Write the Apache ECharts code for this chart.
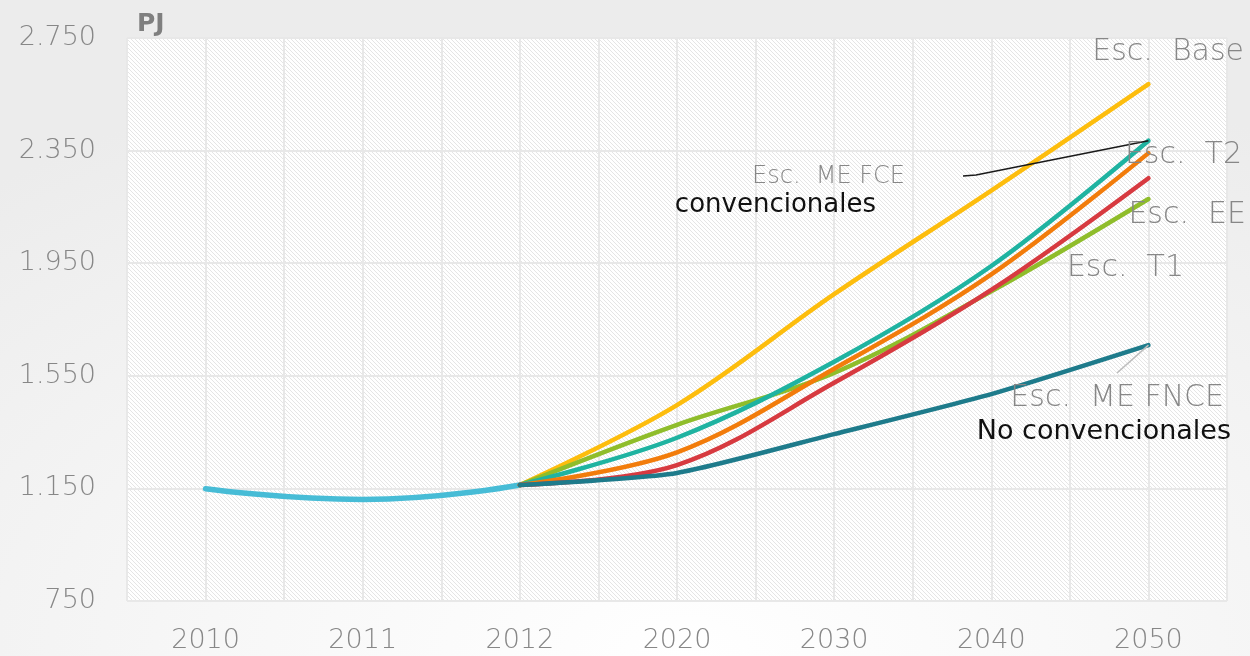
<!DOCTYPE html>
<html>
<head>
<meta charset="utf-8">
<title>Demanda de energía (PJ)</title>
<script src="https://cdn.jsdelivr.net/npm/echarts@6/dist/echarts.min.js"></script>
<style>
  html, body { margin: 0; padding: 0; }
  body {
    background: radial-gradient(ellipse 85% 95% at 55% 100%, #ffffff 0%, #f7f7f7 45%, #ececec 100%);
  }
  #chart { width: 1250px; height: 656px; }
</style>
</head>
<body>
<div id="chart"></div>
<script>
// Years on the horizontal axis
const years = ['2010', '2011', '2012', '2020', '2030', '2040', '2050'];

// Vertical axis tick values (PJ)
const yTicks = [750, 1150, 1550, 1950, 2350, 2750];

// Historical series (2010–2012)
const historico = [1149, 1111, 1162, null, null, null, null];

// Scenario projections, starting from 2012
const escBase   = [null, null, 1162, 1446, 1840, 2208, 2586];
const escEE     = [null, null, 1162, 1376, 1560, 1850, 2178];
const escFCE    = [null, null, 1162, 1330, 1600, 1940, 2385];
const escT2     = [null, null, 1162, 1278, 1575, 1910, 2341];
const escT1     = [null, null, 1162, 1233, 1525, 1855, 2252];
const escFNCE   = [null, null, 1162, 1205, 1343, 1485, 1659];

const FONT = '"DejaVu Sans", Lato, sans-serif';
const GREY = '#878787';

// Fine diagonal hatch used as plot background
function hatchPattern() {
  const s = 4;
  const c = document.createElement('canvas');
  c.width = s; c.height = s;
  const g = c.getContext('2d');
  g.fillStyle = '#ffffff';
  g.fillRect(0, 0, s, s);
  g.strokeStyle = '#e2e2e2';
  g.lineWidth = 0.9;
  g.beginPath();
  g.moveTo(-1, -1); g.lineTo(s + 1, s + 1);
  g.moveTo(-1, s - 1); g.lineTo(1, s + 1);
  g.moveTo(s - 1, -1); g.lineTo(s + 1, 1);
  g.stroke();
  return c;
}

function thousands(v) {
  return String(v).replace(/\B(?=(\d{3})+(?!\d))/g, '.');
}

function lineSeries(name, data, color, width, smooth, z) {
  return {
    name: name,
    type: 'line',
    data: data,
    xAxisIndex: 0,
    yAxisIndex: 0,
    smooth: smooth,
    showSymbol: false,
    connectNulls: false,
    z: z,
    lineStyle: { color: color, width: width, cap: 'round', join: 'round' },
    itemStyle: { color: color },
    emphasis: { disabled: true }
  };
}

const chart = echarts.init(document.getElementById('chart'), null, { renderer: 'canvas' });

const gridLine = { show: true, lineStyle: { color: '#e8e8e8', width: 2 } };

chart.setOption({
  animation: false,
  grid: {
    left: 127, right: 23, top: 38, bottom: 55,
    show: true,
    backgroundColor: { image: hatchPattern(), repeat: 'repeat' },
    borderWidth: 0
  },
  xAxis: [
    {
      type: 'category',
      data: years,
      boundaryGap: true,
      axisLine: { show: false },
      axisTick: { show: false },
      splitLine: { show: false },
      axisLabel: { fontFamily: FONT, fontWeight: 200, fontSize: 27, color: GREY, margin: 26 }
    },
    {
      // half-year guide lines across the plot
      type: 'value',
      min: 0, max: 14, interval: 1,
      position: 'bottom',
      axisLine: { show: false },
      axisTick: { show: false },
      axisLabel: { show: false },
      splitLine: gridLine
    }
  ],
  yAxis: {
    type: 'value',
    min: 750, max: 2750,
    axisLine: { show: false },
    axisTick: { show: false, customValues: yTicks },
    axisLabel: {
      customValues: yTicks,
      fontFamily: FONT, fontWeight: 200, fontSize: 27, color: GREY, margin: 31,
      formatter: thousands
    },
    splitLine: gridLine
  },
  series: [
    lineSeries('Histórico', historico, '#47bcd6', 5.5, 0.5, 3),
    lineSeries('Esc. Base', escBase, '#fdbd0d', 4.5, 0.35, 4),
    lineSeries('Esc. EE', escEE, '#8fbd2b', 4.5, 0.35, 5),
    lineSeries('Esc. ME FCE convencionales', escFCE, '#1fb3a1', 4.5, 0.35, 6),
    lineSeries('Esc. T2', escT2, '#f27c0b', 4.5, 0.35, 7),
    lineSeries('Esc. T1', escT1, '#d73a40', 4.5, 0.35, 8),
    lineSeries('Esc. ME FNCE No convencionales', escFNCE, '#1e7b8b', 4.5, 0.2, 9)
  ]
});

// Scenario captions and leader lines
const endFCE = chart.convertToPixel({ xAxisIndex: 0, yAxisIndex: 0 }, ['2050', escFCE[6]]);
const endFNCE = chart.convertToPixel({ xAxisIndex: 0, yAxisIndex: 0 }, ['2050', escFNCE[6]]);

function caption(text, x, y, size, color, weight) {
  return {
    type: 'text', x: x, y: y, z: 100,
    style: {
      text: text, fill: color, font: (weight || 200) + ' ' + size + 'px ' + FONT,
      align: 'right', verticalAlign: 'middle'
    }
  };
}

chart.setOption({
  graphic: [
    { type: 'text', x: 137, y: 24, z: 100,
      style: { text: 'PJ', fill: '#7f7f7f', font: 'bold 25px ' + FONT, align: 'left', verticalAlign: 'middle' } },
    caption('Esc.  Base', 1244, 52, 30, GREY),
    caption('Esc.  T2', 1242, 155, 30, GREY),
    caption('Esc.  EE', 1246, 215, 30, GREY),
    caption('Esc.  T1', 1184, 268, 30, GREY),
    caption('Esc.  ME FCE', 905, 177, 24, GREY),
    caption('convencionales', 876, 205, 26, '#111111', 400),
    caption('Esc.  ME FNCE', 1224, 398, 30, GREY),
    caption('No convencionales', 1231, 432, 27, '#111111', 400),
    {
      type: 'polyline', z: 90,
      shape: { points: [[963, 176], [976, 175], endFCE] },
      style: { stroke: '#1a1a1a', lineWidth: 1.6, fill: null }
    },
    {
      type: 'line', z: 90,
      shape: { x1: 1117, y1: 373, x2: endFNCE[0], y2: endFNCE[1] },
      style: { stroke: '#bdbdbd', lineWidth: 1.6 }
    }
  ]
});
</script>
</body>
</html>
